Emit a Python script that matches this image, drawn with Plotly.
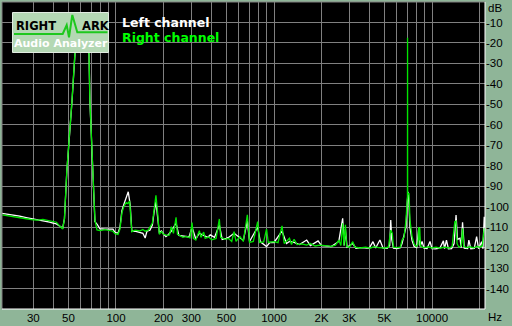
import plotly.graph_objects as go

# ---------------- data ----------------
left_freq = [19.0, 21.3, 24.6, 27.0, 30.0, 34.5, 38.0, 40.0, 42.0, 44.2, 46.0, 47.2, 48.9, 52.7, 55.0, 57.5,
             60.0, 62.5, 67.5, 68.4, 71.2, 73.6, 76.0, 79.2, 85.2, 91.6, 95.7, 98.6, 103, 106, 109, 112, 116,
             119.6, 123, 126, 132, 142, 148, 153, 157, 164, 170, 174, 179, 184, 188, 194, 198, 207, 215, 224,
             240, 250, 270, 290, 303, 320, 337, 360, 380, 395, 420, 451, 470, 500, 520, 559, 609, 640, 678,
             700, 788, 820, 897, 940, 1000, 1124, 1200, 1253, 1340, 1450, 1610, 1700, 1900, 2000, 2100, 2300,
             2570, 2720, 2780, 2830, 2900, 3150, 3300, 3600, 4000, 4230, 4400, 4680, 4900, 5200, 5400, 5480,
             5560, 5700, 6000, 6300, 6460, 6650, 6844, 6944, 7046, 7150, 7250, 7470, 7700, 8000, 8250, 8400,
             8650, 8900, 9300, 9710, 10000, 10500, 11200, 11800, 12000, 12340, 12700, 13300, 13800, 14190,
             14500, 15030, 15300, 15600, 16000, 16800, 17100, 17600, 18500, 19150, 19700, 20600, 21000,
             21400, 21640]
left_db = [-103.3, -103.8, -104.6, -105.3, -105.9, -106.9, -107.6, -108.0, -108.4, -109.6, -110.5, -106.0,
           -82.5, -48.5, -25.5, -12.5, -8.5, -12.5, -25.5, -48.5, -80.0, -107.3, -108.6, -110.8, -111.0,
           -111.2, -111.0, -112.5, -113.0, -110.0, -102.0, -99.0, -96.0, -92.7, -99.0, -112.0, -112.0, -112.5,
           -113.0, -115.3, -112.0, -111.5, -109.0, -103.0, -97.5, -106.0, -112.5, -111.8, -113.0, -114.6,
           -113.6, -112.0, -108.0, -114.0, -114.5, -114.8, -110.0, -115.8, -113.0, -114.0, -115.0, -113.8,
           -115.0, -109.0, -116.0, -115.5, -114.8, -113.0, -115.0, -116.5, -107.0, -117.0, -110.0, -117.2,
           -119.5, -117.5, -117.5, -112.0, -118.0, -117.0, -117.5, -118.5, -116.3, -119.0, -116.7, -119.0,
           -119.2, -119.5, -117.0, -105.7, -119.0, -111.0, -119.8, -118.0, -120.3, -120.0, -120.4, -117.1,
           -120.2, -116.3, -120.3, -120.4, -119.0, -106.5, -116.0, -120.3, -120.5, -120.0, -118.0, -113.5,
           -110.0, -100.0, -92.7, -99.0, -110.0, -116.5, -119.5, -120.0, -110.0, -119.5, -117.0, -120.3,
           -120.5, -117.0, -120.5, -120.6, -120.3, -116.7, -120.5, -116.3, -120.6, -120.5, -118.0, -104.1,
           -116.0, -115.4, -120.0, -107.6, -120.3, -120.5, -116.3, -120.6, -120.4, -114.6, -120.5, -117.1,
           -120.5, -104.9, -110.0]

right_freq = [19.0, 21.3, 24.6, 27.0, 30.0, 32.0, 34.5, 37.0, 40.0, 42.0, 44.2, 46.0, 47.2, 48.9, 52.7, 55.0,
              57.5, 60.0, 62.5, 67.5, 68.4, 71.2, 73.6, 75.8, 79.2, 85.2, 91.6, 95.7, 98.6, 103, 106, 109, 112,
              116, 119, 122, 126, 132, 142, 148, 153, 160, 170, 174, 179, 184, 188, 194, 200, 210, 218, 224,
              231, 240, 245, 255, 265, 280, 294, 303, 309, 320, 337, 345, 359, 367, 385, 405, 430, 451, 460,
              490, 515, 540, 559, 575, 609, 640, 678, 700, 740, 788, 810, 860, 897, 920, 1000, 1060, 1124,
              1160, 1253, 1290, 1340, 1400, 1500, 1610, 1700, 1820, 1955, 2100, 2300, 2450, 2570, 2650, 2720,
              2770, 2830, 2880, 3000, 3150, 3250, 3500, 3800, 4050, 4300, 4600, 5000, 5300, 5480, 5600, 5700,
              6000, 6300, 6460, 6650, 6844, 6990, 7000, 7010, 7150, 7250, 7470, 7700, 7950, 8150, 8230, 8300,
              8360, 8450, 8700, 9000, 9500, 10000, 10600, 11200, 12000, 12800, 13400, 13640, 13940, 14190,
              14400, 14800, 15300, 15600, 15900, 16500, 17400, 18300, 19200, 20000, 20800, 21400, 21640]
right_db = [-104.0, -104.5, -105.3, -105.9, -106.4, -106.6, -106.2, -106.6, -107.3, -107.6, -109.6, -110.9,
            -106.0, -82.0, -48.0, -25.0, -12.0, -8.0, -12.0, -25.0, -48.0, -82.0, -106.5, -111.4, -111.7,
            -111.2, -111.7, -112.0, -113.2, -113.6, -111.0, -103.0, -100.0, -98.0, -98.5, -97.3, -112.3,
            -111.5, -111.8, -111.2, -112.0, -111.5, -108.0, -101.0, -94.5, -104.0, -113.5, -112.2, -113.5,
            -114.0, -113.8, -109.8, -113.0, -105.2, -113.5, -114.2, -115.0, -114.5, -115.2, -107.8, -115.5,
            -116.3, -111.7, -115.0, -112.4, -115.5, -114.8, -116.2, -115.5, -106.0, -115.0, -116.0, -115.5,
            -117.0, -112.2, -117.0, -114.6, -117.0, -104.0, -117.5, -117.0, -107.3, -117.5, -117.2, -111.0,
            -117.5, -117.1, -117.6, -109.4, -118.0, -115.4, -118.5, -115.9, -118.5, -118.2, -118.8, -118.0,
            -119.2, -118.8, -119.0, -119.4, -118.8, -116.3, -119.0, -108.1, -119.0, -108.9, -119.5, -119.8,
            -117.1, -119.8, -120.2, -119.8, -120.3, -119.5, -120.0, -120.2, -119.8, -111.4, -113.0, -119.8,
            -120.0, -119.8, -116.3, -115.0, -106.5, -95.0, -17.5, -94.0, -93.5, -106.5, -114.5, -118.2,
            -119.5, -118.5, -110.0, -116.5, -110.3, -119.2, -119.8, -120.0, -119.6, -120.2, -119.8, -120.3,
            -119.8, -120.2, -119.5, -113.0, -107.3, -107.0, -118.0, -119.8, -119.2, -110.6, -119.5, -120.0,
            -119.6, -120.1, -119.4, -119.8, -119.2, -110.6, -112.0]

x_grid = [30, 40, 50, 60, 70, 80, 90, 100, 200, 300, 400, 500, 600, 700, 800, 900,
          1000, 2000, 3000, 4000, 5000, 6000, 7000, 8000, 9000, 10000, 20000]
x_labels = {30: "30", 50: "50", 100: "100", 200: "200", 300: "300", 500: "500",
            1000: "1000", 2000: "2K", 3000: "3K", 5000: "5K", 10000: "10000"}
y_grid = [0, -10, -20, -30, -40, -50, -60, -70, -80, -90, -100, -110, -120, -130, -140]
y_labels = ["", "-10", "-20", "-30", "-40", "-50", "-60", "-70", "-80", "-90", "-100", "-110",
            "-120", "-130", "-140"]
series_names = ["Left channel", "Right channel"]

# ---------------- layout helpers ----------------
W, H = 512, 326
L, R, T, B = 2, 485, 2, 309


def px_x(px):
    return (px - L) / (R - L)


def px_y(py):
    return (B - py) / (B - T)


BG = "#8fb598"
GRID = "#808080"
GREEN = "#00e600"

fig = go.Figure()
fig.add_trace(go.Scatter(x=left_freq, y=left_db, mode="lines", name=series_names[0],
                         line=dict(color="#ffffff", width=1.3)))
fig.add_trace(go.Scatter(x=right_freq, y=right_db, mode="lines", name=series_names[1],
                         line=dict(color=GREEN, width=1.3)))

fig.update_layout(
    width=W, height=H,
    margin=dict(l=L, r=W - R, t=T, b=H - B, pad=0),
    paper_bgcolor=BG, plot_bgcolor="#000000",
    showlegend=False,
    font=dict(family="Liberation Sans", size=11, color="#000000"),
)
fig.update_xaxes(
    type="log", range=[1.2788, 4.3352],
    tickvals=x_grid, ticktext=[x_labels.get(v, "") for v in x_grid],
    showgrid=True, gridcolor=GRID, gridwidth=1,
    ticks="", zeroline=False, showline=False,
    tickfont=dict(family="Liberation Sans", size=11.5, color="#000000"),
    fixedrange=True,
)
fig.update_yaxes(
    range=[-150, 0], side="right",
    tickvals=y_grid, ticktext=y_labels,
    showgrid=True, gridcolor=GRID, gridwidth=1,
    ticks="", zeroline=False, showline=False,
    tickfont=dict(family="Liberation Sans", size=11.5, color="#000000"),
    fixedrange=True,
)

shapes = [
    # plot frame: grey top/left, white bottom/right
    dict(type="line", xref="paper", yref="paper", x0=0, x1=1, y0=1, y1=1, line=dict(color=GRID, width=1)),
    dict(type="line", xref="paper", yref="paper", x0=0, x1=0, y0=0, y1=1, line=dict(color=GRID, width=1)),
    dict(type="line", xref="paper", yref="paper", x0=0, x1=1, y0=0, y1=0, line=dict(color="#ffffff", width=1)),
    dict(type="line", xref="paper", yref="paper", x0=1, x1=1, y0=0, y1=1, line=dict(color="#ffffff", width=1)),
    # logo box
    dict(type="rect", xref="paper", yref="paper", layer="above",
         x0=px_x(12.5), x1=px_x(108.5), y0=px_y(52.5), y1=px_y(12.5),
         fillcolor="#b4d8b4", line=dict(color="#e2ece2", width=1)),
]
zig = [(14, 34), (62.7, 34), (66.7, 25), (69, 37.3), (72.3, 15), (77.3, 32.3), (107.5, 32.3)]
path = "M " + " L ".join(f"{px_x(a):.5f},{px_y(b):.5f}" for a, b in zig)
shapes.append(dict(type="path", xref="paper", yref="paper", layer="above", path=path,
                   line=dict(color="#1ec81e", width=2)))
fig.update_layout(shapes=shapes)

bold = "DejaVu Sans"
ann = [
    dict(text="<b>RIGHT</b>", x=px_x(35.5), y=px_y(26), font=dict(family=bold, size=11.5, color="#000000"),
         xanchor="center", yanchor="middle"),
    dict(text="<b>ARK</b>", x=px_x(95.5), y=px_y(26), font=dict(family=bold, size=11.5, color="#000000"),
         xanchor="center", yanchor="middle"),
    dict(text="<b>Audio Analyzer</b>", x=px_x(61), y=px_y(43.5), font=dict(family=bold, size=11, color="#ffffff"),
         xanchor="center", yanchor="middle"),
    dict(text="<b>" + series_names[0] + "</b>", x=px_x(121), y=px_y(22.5),
         font=dict(family=bold, size=12.5, color="#ffffff"), xanchor="left", yanchor="middle"),
    dict(text="<b>" + series_names[1] + "</b>", x=px_x(121), y=px_y(37),
         font=dict(family=bold, size=12.5, color="#00ff00"), xanchor="left", yanchor="middle"),
    dict(text="dB", x=px_x(487), y=px_y(7.5), font=dict(family="Liberation Sans", size=11.5, color="#000000"),
         xanchor="left", yanchor="middle"),
    dict(text="Hz", x=px_x(487), y=px_y(316.5), font=dict(family="Liberation Sans", size=11.5, color="#000000"),
         xanchor="left", yanchor="middle"),
]
for a in ann:
    a.update(xref="paper", yref="paper", showarrow=False, borderpad=0)
fig.update_layout(annotations=ann)

fig.write_html("out.html")
